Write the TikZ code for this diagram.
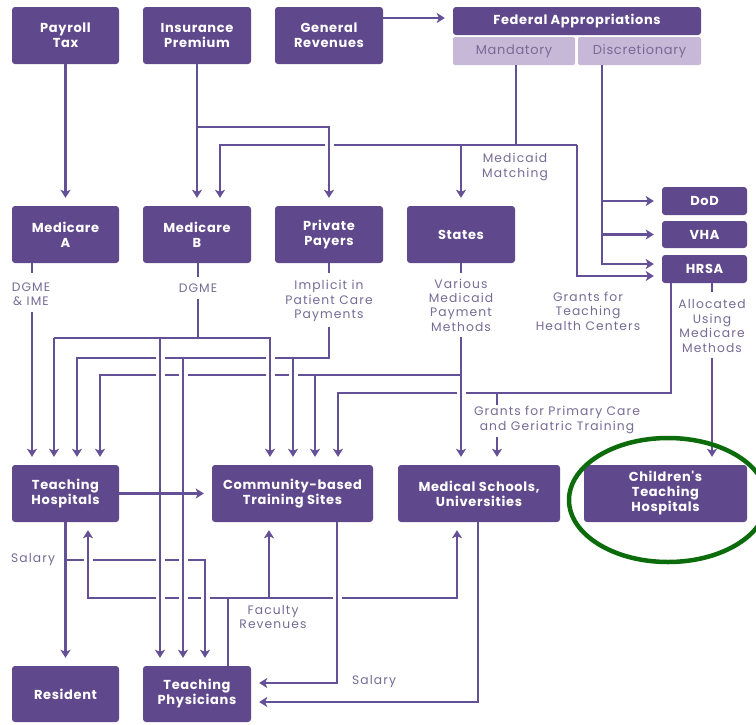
\documentclass[tikz,border=0pt]{standalone}
\usepackage{fontspec}
\setmainfont{Poppins}
\newfontfamily\boxfam[LetterSpace=5]{Poppins}
\newfontfamily\labfam[LetterSpace=9]{Poppins}
\usetikzlibrary{arrows.meta}
\definecolor{boxc}{RGB}{96,72,140}
\definecolor{lightc}{RGB}{200,184,216}
\definecolor{lighttext}{RGB}{122,105,148}
\definecolor{linec}{RGB}{100,80,150}
\definecolor{labc}{RGB}{118,108,150}
\definecolor{greenc}{RGB}{12,108,12}
\newcommand{\xgap}[2]{\fill[white] (#1-4.5,#2-2) rectangle (#1+4.5,#2+2); \draw[ln] (#1,#2-5) -- (#1,#2+5);}
\tikzset{
  box/.style={fill=boxc, rounded corners=3pt, text=white, font=\boxfam\bfseries\fontsize{13}{15}\selectfont, align=center, inner sep=0pt},
  subbox/.style={fill=lightc, rounded corners=2pt, text=lighttext, font=\boxfam\fontsize{13}{15}\selectfont, align=center, inner sep=0pt, minimum height=28pt},
  lab/.style={text=labc, font=\labfam\fontsize{12.3}{14.4}\selectfont, align=center, inner sep=0pt},
  ln/.style={draw=linec, line width=2.2pt},
  arr/.style={ln, -{Stealth[length=8pt,width=10pt,inset=2pt]}, shorten >=8pt}
}
\begin{document}
\begin{tikzpicture}[x=1pt,y=-1pt]
\useasboundingbox (0,0) rectangle (756,724);
\clip (0,0) rectangle (756,724);
\fill[white] (0,0) rectangle (756,724);
% top row
\node[box, minimum width=107pt, minimum height=57pt] (payroll) at (65.5,35.5) {Payroll\\Tax};
\node[box, minimum width=108pt, minimum height=57pt] (insur) at (197,35.5) {Insurance\\Premium};
\node[box, minimum width=108pt, minimum height=57pt] (genrev) at (329,35.5) {General\\Revenues};
\node[box, minimum width=248pt, minimum height=28pt] (fedapp) at (577,21) {Federal Appropriations};
\node[subbox, minimum width=122pt] (mand) at (514,51) {Mandatory};
\node[subbox, minimum width=123pt] (disc) at (639.5,51) {Discretionary};
% second row
\node[box, minimum width=107pt, minimum height=57pt] (mca) at (65.5,234.5) {Medicare\\A};
\node[box, minimum width=108pt, minimum height=57pt] (mcb) at (197,234.5) {Medicare\\B};
\node[box, minimum width=108pt, minimum height=57pt] (priv) at (329,234.5) {Private\\Payers};
\node[box, minimum width=108pt, minimum height=57pt] (states) at (461,234.5) {States};
\node[box, minimum width=85pt, minimum height=28pt] (dod) at (704.5,201) {DoD};
\node[box, minimum width=85pt, minimum height=27pt] (vha) at (704.5,234.5) {VHA};
\node[box, minimum width=85pt, minimum height=28pt] (hrsa) at (704.5,269) {HRSA};
% third row
\node[box, minimum width=107pt, minimum height=57pt] (th) at (65.5,493.5) {Teaching\\Hospitals};
\node[box, minimum width=161pt, minimum height=57pt] (cbts) at (292.5,493.5) {Community-based\\Training Sites};
\node[box, minimum width=162pt, minimum height=57pt] (ms) at (479,493.5) {Medical Schools,\\Universities};
\node[box, minimum width=163pt, minimum height=57pt] (cth) at (665.5,493.5) {Children's\\Teaching\\Hospitals};
% bottom row
\node[box, minimum width=107pt, minimum height=56pt] (res) at (65.5,694) {Resident};
\node[box, minimum width=108pt, minimum height=56pt] (tp) at (197,694) {Teaching\\Physicians};
% labels
\node[lab] (lmm) at (515,167) {Medicaid\\Matching};
\node[lab] (ldi) at (31,294) {DGME\\\& IME};
\node[lab] (ldg) at (198,288) {DGME};
\node[lab] (lim) at (329,301) {Implicit in\\Patient Care\\Payments};
\node[lab] (lva) at (461,305) {Various\\Medicaid\\Payment\\Methods};
\node[lab] (lgt) at (588,311) {Grants for\\Teaching\\Health Centers};
\node[lab] (lal) at (712,326) {Allocated\\Using\\Medicare\\Methods};
\node[lab] (lgp) at (557,420) {Grants for Primary Care\\and Geriatric Training};
\node[lab] (ls1) at (33,560) {Salary};
\node[lab] (lfr) at (273,617) {Faculty\\Revenues};
\node[lab] (ls2) at (374,682) {Salary};
% connectors top
\draw[arr] (payroll.south) -- (mca.north);
\draw[arr] (insur.south) -- (mcb.north);
\draw[arr] (197,127) -| (priv.north);
\draw[arr] (genrev.east |- 0,18) -- (fedapp.west |- 0,18);
\draw[ln] (mand.south -| 516,0) -- (516,145);
\draw[arr] (577,145) -- (220,145) -- (mcb.north -| 220,0);
\draw[arr] (461,145) -- (states.north);
\draw[arr] (577,145) |- (hrsa.west |- 0,276);
\draw[arr] (disc.south -| 602,0) |- (hrsa.west |- 0,264);
\draw[arr] (602,201) -- (dod.west);
\draw[arr] (602,234.5) -- (vha.west);
% medicare A
\draw[ln] (mca.south -| 32,0) -- (32,273);
\draw[arr] (32,312) -- (th.north -| 32,0);
% medicare B
\draw[ln] (mcb.south -| 198,0) -- (198,277);
\draw[ln] (198,299) -- (198,338);
\draw[arr] (54,338) -- (270,338) -- (cbts.north -| 270,0);
\draw[arr] (54,338) -- (th.north -| 54,0);
\draw[arr] (160,338) -- (tp.north -| 160,0);
% private payers
\draw[ln] (priv.south) -- (329,273);
\draw[arr] (329,327) |- (77,358) -- (th.north -| 77,0);
\draw[arr] (183,358) -- (tp.north -| 183,0);
\draw[arr] (293,358) -- (cbts.north -| 293,0);
% states
\draw[ln] (states.south) -- (461,273);
\draw[arr] (461,337) -- (ms.north -| 461,0);
\draw[arr] (461,375) -| (th.north -| 100,0);
\draw[arr] (315,375) -- (cbts.north -| 315,0);
% hrsa
\draw[arr] (hrsa.south -| 671,0) |- (338,393) -- (cbts.north -| 338,0);
\draw[ln] (497,393) -- (497,405);
\draw[arr] (497,437) -- (ms.north -| 497,0);
\draw[ln] (hrsa.south -| 712,0) -- (712,292);
\draw[arr] (712,358) -- (cth.north -| 712,0);
% lower part
\draw[arr] (th.east) -- (cbts.west);
\draw[arr] (th.south) -- (res.north);
\draw[arr] (66,560) -| (tp.north -| 205,0);
\draw[ln] (tp.north -| 228,0) -- (228,598);
\draw[arr] (269,598) -| (th.south -| 88,0);
\draw[arr] (269,598) -| (ms.south -| 457,0);
\draw[arr] (269,598) -- (cbts.south -| 269,0);
\draw[arr] (cbts.south -| 337,0) |- (tp.east |- 0,683);
\draw[arr] (ms.south -| 478,0) |- (tp.east |- 0,702);
% crossings
\xgap{329}{145}
\xgap{160}{358}\xgap{270}{358}
\xgap{160}{375}\xgap{183}{375}\xgap{270}{375}\xgap{293}{375}
\xgap{461}{393}
\xgap{88}{560}\xgap{160}{560}\xgap{183}{560}
\xgap{160}{598}\xgap{183}{598}\xgap{205}{598}\xgap{337}{598}
% highlight
\draw[greenc, line width=4.5pt] (668,500) ellipse [x radius=99pt, y radius=62pt];
\end{tikzpicture}
\end{document}
